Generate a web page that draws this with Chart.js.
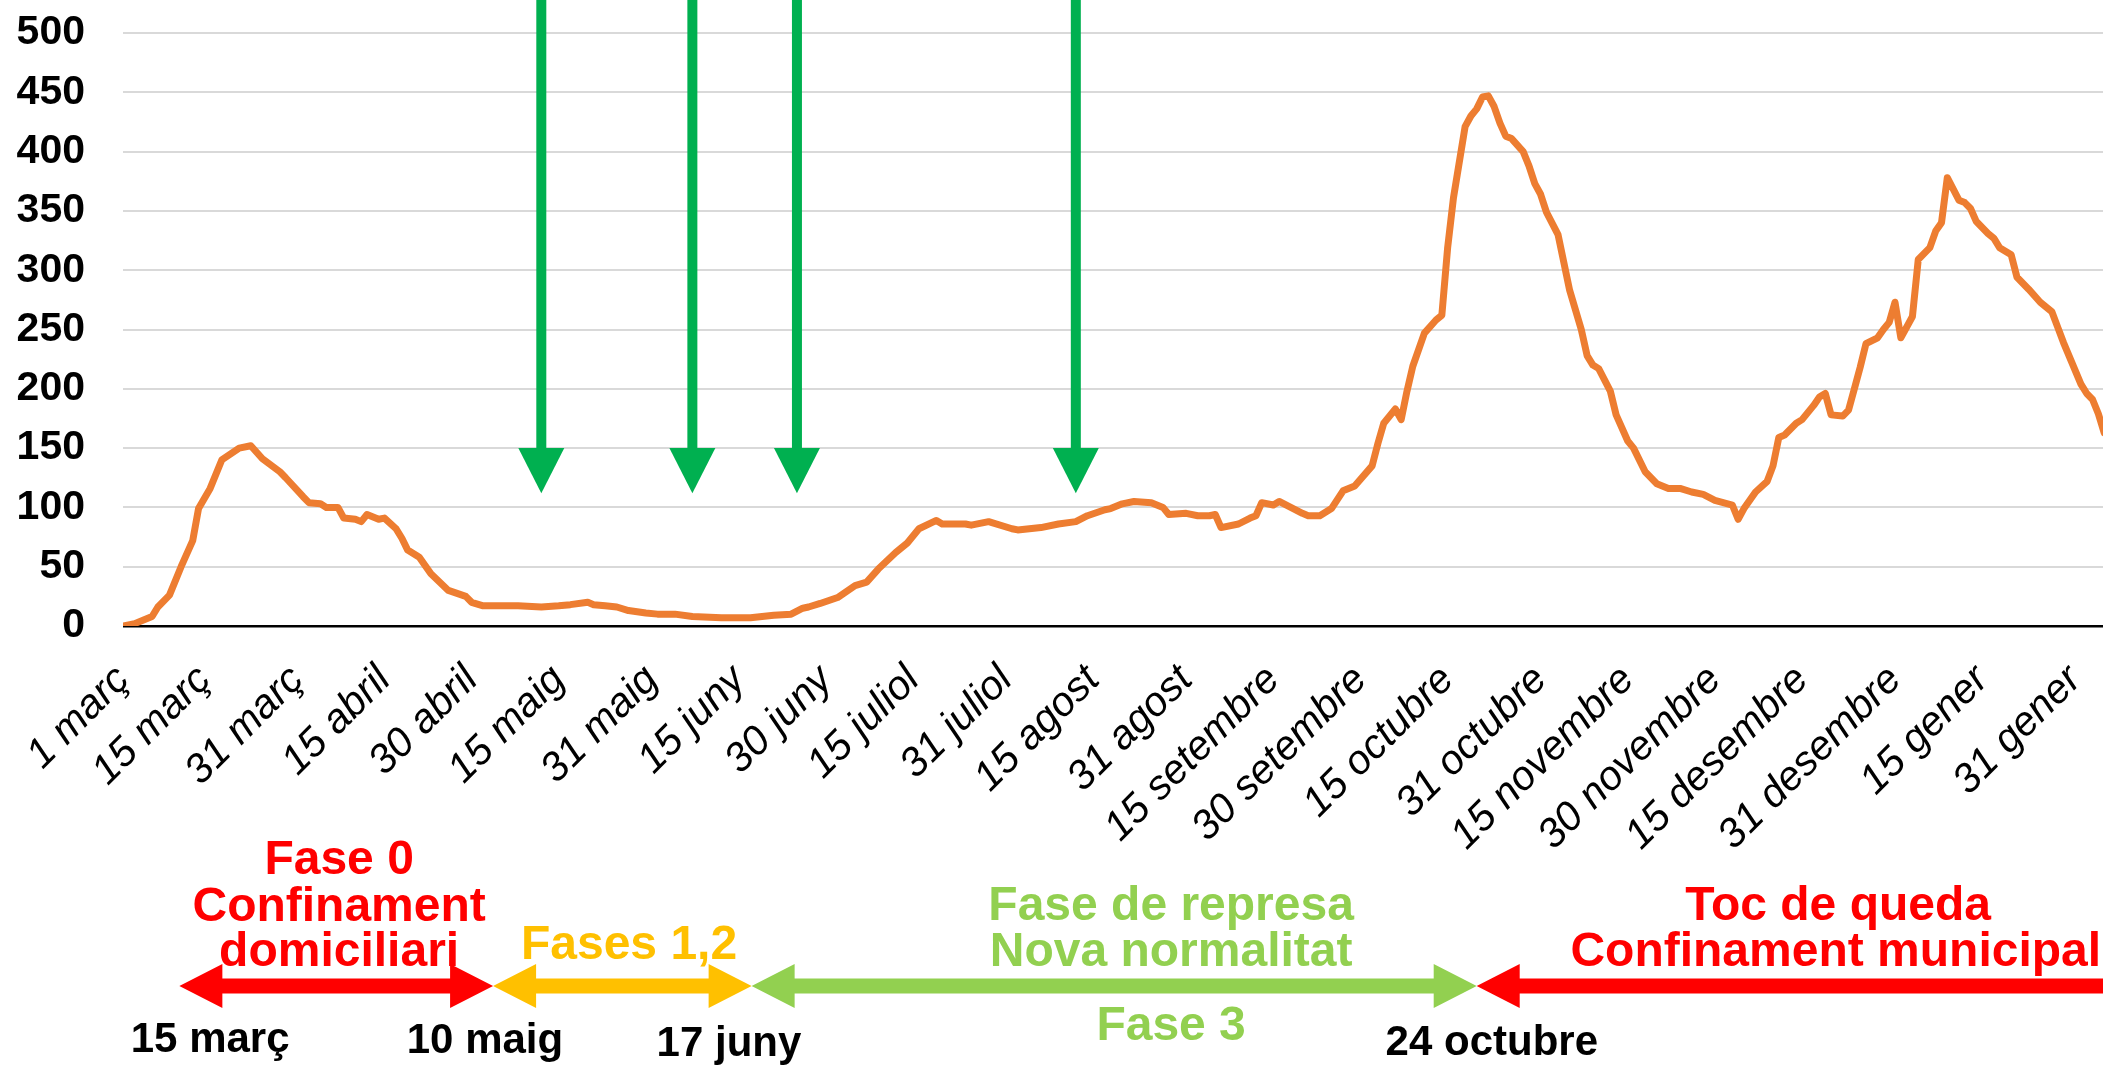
<!DOCTYPE html>
<html lang="ca">
<head>
<meta charset="utf-8">
<title>Casos diaris</title>
<script src="https://cdn.jsdelivr.net/npm/chart.js@4.4.1/dist/chart.umd.min.js"></script>
<style>
    html, body { margin: 0; padding: 0; background: #fff; overflow: hidden; }
</style>
</head>
<body>
<canvas id="grafic" width="2103" height="1066"></canvas>
<script>
// dies comptats des de l'1 de març
const dies = [0, 2, 5, 6, 8, 10, 12, 13, 15, 17, 20, 22, 24, 27, 28, 31, 32, 34, 35, 37,
    38, 40, 41, 42, 44, 45, 47, 48, 49, 51, 53, 56, 59, 60, 62, 68, 72, 75, 77, 80,
    81, 83, 85, 87, 90, 92, 95, 98, 103, 108, 112, 115, 117, 118, 120, 123, 126, 128, 130, 133,
    135, 137, 140, 141, 145, 146, 149, 153, 154, 158, 161, 164, 166, 169, 170, 172, 174, 177, 179, 180,
    183, 185, 187, 188, 189, 192, 194, 195, 196, 198, 199, 201, 203, 204, 206, 208, 210, 212, 215, 216,
    217, 219, 220, 221, 222, 224, 226, 227, 228, 229, 231, 232, 233, 234, 235, 236, 237, 238, 239, 241,
    242, 243, 244, 245, 247, 249, 251, 252, 253, 254, 256, 257, 259, 260, 262, 264, 266, 268, 270, 272,
    274, 277, 278, 279, 281, 283, 284, 285, 286, 288, 289, 291, 292, 293, 294, 296, 297, 298, 299, 300,
    302, 303, 304, 305, 306, 308, 309, 311, 312, 313, 314, 316, 317, 318, 319, 321, 322, 323, 325, 326,
    328, 330, 332, 333, 334, 337, 338, 339, 340, 341];

const casos = [0, 2, 8, 16, 26, 50, 72, 99, 116, 140, 150, 152, 141, 130, 125, 109, 104, 103, 100, 100,
    91, 90, 88, 94, 90, 91, 82, 74, 64, 58, 44, 30, 25, 20, 17, 17, 16, 17, 18, 20,
    18, 17, 16, 13, 11, 10, 10, 8, 7, 7, 9, 10, 15, 16, 19, 24, 34, 37, 48, 62,
    70, 82, 89, 86, 86, 85, 88, 82, 81, 83, 86, 88, 93, 98, 99, 103, 105, 104, 100, 94,
    95, 93, 93, 94, 83, 86, 91, 93, 104, 102, 105, 100, 95, 93, 93, 99, 114, 118, 135, 154,
    171, 183, 174, 198, 219, 247, 258, 262, 319, 361, 421, 430, 436, 446, 447, 438, 424, 413, 411, 400,
    388, 373, 364, 349, 330, 283, 250, 228, 220, 217, 198, 178, 156, 150, 130, 120, 116, 116, 113, 111,
    106, 102, 90, 99, 113, 122, 135, 159, 161, 171, 174, 186, 193, 196, 178, 177, 182, 200, 218, 238,
    243, 250, 256, 273, 243, 261, 309, 319, 333, 340, 378, 359, 357, 352, 341, 331, 327, 319, 313, 294,
    284, 273, 265, 252, 239, 204, 196, 191, 179, 163];

// etiquetes de l'eix X
const diesEtiquetes = [0, 14, 30, 45, 60, 75, 91, 106, 121, 136, 152, 167, 183, 198, 213, 228, 244, 259, 274, 289, 305, 320, 336];
const etiquetes = ['1 març', '15 març', '31 març', '15 abril', '30 abril', '15 maig', '31 maig', '15 juny', '30 juny',
    '15 juliol', '31 juliol', '15 agost', '31 agost', '15 setembre', '30 setembre', '15 octubre', '31 octubre',
    '15 novembre', '30 novembre', '15 desembre', '31 desembre', '15 gener', '31 gener'];

// fletxes verdes (dia de cada canvi)
const diesFletxes = [72, 98, 116, 164];

// fases: límits en dies i colors
const limitsFases = [9.7, 63.7, 108.2, 233, 360];
const colorsFases = ['#FF0000', '#FFC000', '#92D050', '#FF0000'];

// textos de sota el gràfic: [text, dia, línia base, color, mida]
const textos = [
    ['Fase 0', 37.2, 874, '#FF0000', 48],
    ['Confinament', 37.2, 921, '#FF0000', 48],
    ['domiciliari', 37.2, 966, '#FF0000', 48],
    ['Fases 1,2', 87.1, 959, '#FFC000', 48],
    ['Fase de represa', 180.4, 920, '#92D050', 48],
    ['Nova normalitat', 180.4, 966, '#92D050', 48],
    ['Fase 3', 180.4, 1040, '#92D050', 48],
    ['Toc de queda', 295.2, 920, '#FF0000', 48],
    ['Confinament municipal', 294.8, 966, '#FF0000', 48],
    ['15 març', 15, 1052, '#000', 42],
    ['10 maig', 62.3, 1053, '#000', 42],
    ['17 juny', 104.3, 1056, '#000', 42],
    ['24 octubre', 235.6, 1055, '#000', 42]
];

const FONT = "'Liberation Sans', Arial, sans-serif";
Chart.defaults.font.family = FONT;

function fletxaDoble(ctx, x1, x2, yc, color) {
    const cap = 43, mig = 22, gruix = 7.5;
    ctx.fillStyle = color;
    ctx.beginPath();
    ctx.moveTo(x1, yc);
    ctx.lineTo(x1 + cap, yc - mig);
    ctx.lineTo(x1 + cap, yc - gruix);
    ctx.lineTo(x2 - cap, yc - gruix);
    ctx.lineTo(x2 - cap, yc - mig);
    ctx.lineTo(x2, yc);
    ctx.lineTo(x2 - cap, yc + mig);
    ctx.lineTo(x2 - cap, yc + gruix);
    ctx.lineTo(x1 + cap, yc + gruix);
    ctx.lineTo(x1 + cap, yc + mig);
    ctx.closePath();
    ctx.fill();
}

const anotacions = {
    id: 'anotacions',
    afterDraw(chart) {
        const { ctx, scales: { x, y } } = chart;
        ctx.save();

        // fletxes verdes
        ctx.fillStyle = '#00B050';
        const dalt = y.getPixelForValue(150);
        const punta = y.getPixelForValue(112);
        diesFletxes.forEach(d => {
            const px = x.getPixelForValue(d);
            ctx.fillRect(px - 5, 0, 10, dalt + 1);
            ctx.beginPath();
            ctx.moveTo(px - 23, dalt);
            ctx.lineTo(px + 23, dalt);
            ctx.lineTo(px, punta);
            ctx.closePath();
            ctx.fill();
        });

        // textos
        ctx.textAlign = 'center';
        ctx.textBaseline = 'alphabetic';
        textos.forEach(([t, d, yb, color, mida]) => {
            ctx.font = 'bold ' + mida + 'px ' + FONT;
            ctx.fillStyle = color;
            ctx.fillText(t, x.getPixelForValue(d), yb);
        });

        // línia de temps
        for (let i = 0; i < colorsFases.length; i++) {
            fletxaDoble(ctx, x.getPixelForValue(limitsFases[i]), x.getPixelForValue(limitsFases[i + 1]), 986, colorsFases[i]);
        }
        ctx.restore();
    }
};

const ctx = document.getElementById('grafic').getContext('2d');

new Chart(ctx, {
    type: 'line',
    data: {
        datasets: [{
            data: dies.map((d, i) => ({ x: d, y: casos[i] })),
            borderColor: '#ED7D31',
            borderWidth: 7,
            pointRadius: 0,
            tension: 0,
            borderJoinStyle: 'round',
            borderCapStyle: 'round'
        }]
    },
    options: {
        responsive: false,
        animation: false,
        layout: {
            padding: { top: 33, left: 16, right: 0, bottom: 180 }
        },
        plugins: {
            legend: { display: false },
            tooltip: { enabled: false }
        },
        scales: {
            x: {
                type: 'linear',
                min: 0,
                max: 340.8,
                grid: { display: false, drawTicks: false },
                border: { display: false },
                afterBuildTicks: (s) => {
                    s.ticks = diesEtiquetes.map(v => ({ value: v }));
                },
                afterFit: (s) => {
                    s.height = 260;
                    s.paddingLeft = 0;
                    s.paddingRight = 0;
                },
                ticks: {
                    autoSkip: false,
                    maxRotation: 45,
                    minRotation: 45,
                    padding: 30,
                    color: '#000',
                    font: { size: 41, style: 'italic' },
                    callback: (v, i) => etiquetes[i]
                }
            },
            y: {
                min: 0,
                max: 500,
                grid: {
                    drawTicks: false,
                    color: (c) => c.tick && c.tick.value === 0 ? '#000' : '#D9D9D9',
                    lineWidth: (c) => c.tick && c.tick.value === 0 ? 2.5 : 2
                },
                border: { display: false },
                afterFit: (s) => {
                    s.width = 107;
                    s.paddingTop = 0;
                    s.paddingBottom = 0;
                },
                ticks: {
                    stepSize: 50,
                    padding: 38,
                    color: '#000',
                    font: { size: 41, weight: 'bold' }
                }
            }
        }
    },
    plugins: [anotacions]
});
</script>
</body>
</html>
